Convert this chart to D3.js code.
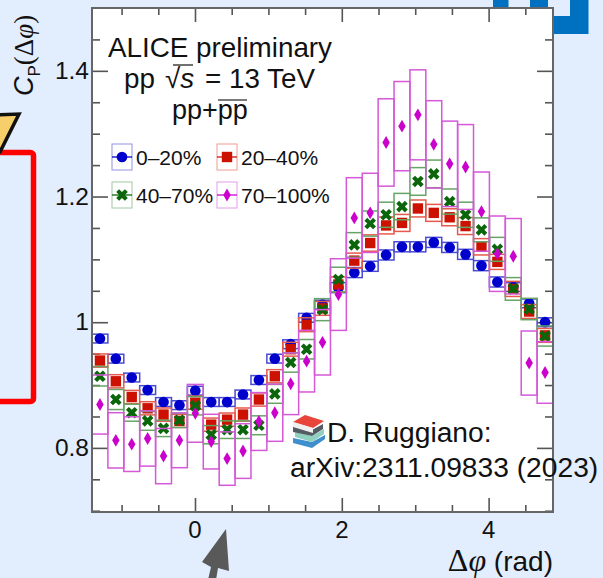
<!DOCTYPE html>
<html>
<head>
<meta charset="utf-8">
<script src="https://cdn.jsdelivr.net/npm/d3@7"></script>
<style>
    html, body { margin: 0; padding: 0; background: #e2edfd; }
    svg { display: block; }
    text { font-family: "Liberation Sans", Arial, sans-serif; fill: #111; }
    .serif { font-family: "Liberation Serif", "DejaVu Serif", serif; }
    .axis path { display: none; }
    .axis line { stroke: #555; stroke-width: 1.6; }
</style>
</head>
<body>
<div id="chart"></div>
<script>
// values, one per dphi bin (29 bins)
const labels = ["0–20%", "20–40%", "40–70%", "70–100%"];

const c0_20 = [0.974, 0.942, 0.912, 0.892, 0.873, 0.868, 0.891, 0.873, 0.873, 0.885, 0.908, 0.942, 0.965, 1.007, 1.028,
    1.055, 1.079, 1.089, 1.107, 1.120, 1.120, 1.127, 1.119, 1.108, 1.090, 1.064, 1.056, 1.030, 1.000];
const c20_40 = [0.939, 0.906, 0.881, 0.863, 0.853, 0.843, 0.872, 0.837, 0.845, 0.853, 0.877, 0.914, 0.957, 0.996, 1.022,
    1.060, 1.098, 1.126, 1.154, 1.158, 1.181, 1.174, 1.167, 1.153, 1.120, 1.096, 1.053, 1.017, 0.979];
const c40_70 = [0.914, 0.877, 0.856, 0.843, 0.831, 0.844, 0.867, 0.821, 0.829, 0.829, 0.836, 0.886, 0.936, 0.957, 1.020,
    1.068, 1.123, 1.157, 1.171, 1.184, 1.224, 1.236, 1.192, 1.171, 1.147, 1.116, 1.053, 1.021, 0.978];
const c70_100 = [0.869, 0.812, 0.806, 0.815, 0.787, 0.812, 0.855, 0.810, 0.783, 0.795, 0.842, 0.856, 0.902, 0.938, 0.968,
    1.044, 1.166, 1.174, 1.286, 1.312, 1.330, 1.283, 1.252, 1.247, 1.176, 1.109, 1.105, 0.935, 0.920];

// half heights of the systematic boxes
const sys0_20 = [0.007, 0.007, 0.007, 0.007, 0.007, 0.007, 0.007, 0.007, 0.007, 0.007, 0.007, 0.007, 0.007, 0.007, 0.007,
    0.008, 0.008, 0.008, 0.008, 0.008, 0.008, 0.008, 0.008, 0.008, 0.008, 0.008, 0.007, 0.007, 0.007];
const sys20_40 = [0.0105, 0.0105, 0.0105, 0.0105, 0.0105, 0.0105, 0.0105, 0.0105, 0.0105, 0.0105, 0.0105, 0.0105, 0.011, 0.011, 0.011,
    0.012, 0.012, 0.013, 0.0135, 0.0135, 0.0135, 0.0135, 0.0135, 0.0135, 0.013, 0.012, 0.012, 0.011, 0.011];
const sys40_70 = [0.0155, 0.016, 0.0135, 0.015, 0.013, 0.0115, 0.0145, 0.0145, 0.014, 0.014, 0.015, 0.015, 0.0155, 0.0155, 0.0175,
    0.0195, 0.0195, 0.02, 0.02, 0.021, 0.022, 0.022, 0.02, 0.02, 0.019, 0.019, 0.018, 0.017, 0.016];
const sys70_100 = [0.047, 0.044, 0.0435, 0.044, 0.044, 0.0435, 0.046, 0.0435, 0.0425, 0.0435, 0.046, 0.0455, 0.049, 0.049, 0.052,
    0.057, 0.064, 0.063, 0.0695, 0.071, 0.0716, 0.0695, 0.068, 0.0675, 0.063, 0.060, 0.060, 0.051, 0.049];

const xTicks = [0, 2, 4];
const xMinorTicks = [-1, -0.5, 0.5, 1, 1.5, 2.5, 3, 3.5, 4.5];
const yTicks = [0.8, 1, 1.2, 1.4];
const yMinorTicks = [0.7, 0.75, 0.85, 0.9, 0.95, 1.05, 1.1, 1.15, 1.25, 1.3, 1.35, 1.45];

const width = 603, height = 578;
const margin = {top: 8, right: 50, bottom: 66, left: 92};

const svg = d3.select("#chart").append("svg")
    .attr("width", width)
    .attr("height", height);

// slide decoration around the plot
svg.append("rect").attr("x", -20).attr("y", 152.5).attr("width", 53.5).attr("height", 249)
    .attr("rx", 3).attr("fill", "none").attr("stroke", "#ff0000").attr("stroke-width", 5.5);
svg.append("path").attr("d", "M-10,115 L19,114 L0,152 L-10,152 Z")
    .attr("fill", "#f6cf6a").attr("stroke", "#111").attr("stroke-width", 3.5);
[[493, 0, 15.5, 8], [530, 0, 18, 8], [570, 0, 18.5, 34], [553, 16, 18, 18]].forEach(r => {
    svg.append("rect").attr("x", r[0]).attr("y", r[1]).attr("width", r[2]).attr("height", r[3]).attr("fill", "#0070c0");
});

const plotW = width - margin.left - margin.right;
const plotH = height - margin.top - margin.bottom;
const chart = svg.append("g").attr("transform", `translate(${margin.left},${margin.top})`);

const x = d3.scaleLinear().domain([-1.403, 4.877]).range([0, plotW]);
const y = d3.scaleLinear().domain([0.698, 1.5]).range([plotH, 0]);
const binWidth = (x.domain()[1] - x.domain()[0]) / 29;
const binLeft = i => x.domain()[0] + i * binWidth;

chart.append("rect").attr("width", plotW).attr("height", plotH).attr("fill", "#fff");

function ticks(axis, scale, values, size, tx, ty) {
    chart.append("g").attr("class", "axis")
        .attr("transform", `translate(${tx},${ty})`)
        .call(axis(scale).tickValues(values).tickSize(size).tickFormat(""));
}
ticks(d3.axisBottom, x, xTicks, -14, 0, plotH);
ticks(d3.axisBottom, x, xMinorTicks, -7, 0, plotH);
ticks(d3.axisTop, x, xTicks, -14, 0, 0);
ticks(d3.axisTop, x, xMinorTicks, -7, 0, 0);
ticks(d3.axisLeft, y, yTicks, -16, 0, 0);
ticks(d3.axisLeft, y, yMinorTicks, -8, 0, 0);
ticks(d3.axisRight, y, yTicks, -16, plotW, 0);
ticks(d3.axisRight, y, yMinorTicks, -8, plotW, 0);

const series = [
    {values: c0_20, sys: sys0_20, color: "#0000cc", box: "#4a4ad2", symbol: d3.symbolCircle, size: 90, rotate: 0},
    {values: c20_40, sys: sys20_40, color: "#cc1100", box: "#e65a4e", symbol: d3.symbolSquare, size: 108, rotate: 0},
    {values: c40_70, sys: sys40_70, color: "#0b660b", box: "#66a466", symbol: d3.symbolCross, size: 84, rotate: 45},
    {values: c70_100, sys: sys70_100, color: "#cc00cc", box: "#d458d8", symbol: d3.symbolDiamond, size: 48, rotate: 0}
];

series.forEach(s => {
    const g = chart.append("g");
    g.selectAll("rect")
        .data(s.values)
        .join("rect")
        .attr("x", (d, i) => x(binLeft(i)))
        .attr("width", x(binWidth) - x(0))
        .attr("y", (d, i) => y(d + s.sys[i]))
        .attr("height", (d, i) => y(d - s.sys[i]) - y(d + s.sys[i]))
        .attr("fill", "none")
        .attr("stroke", s.box)
        .attr("stroke-width", 1.5);
    g.selectAll("path")
        .data(s.values)
        .join("path")
        .attr("d", d3.symbol(s.symbol, s.size))
        .attr("fill", s.color)
        .attr("transform", (d, i) => `translate(${x(binLeft(i) + binWidth / 2)},${y(d)}) rotate(${s.rotate})`);
});

chart.append("rect").attr("width", plotW).attr("height", plotH)
    .attr("fill", "none").attr("stroke", "#666").attr("stroke-width", 2);

// tick labels
chart.selectAll(".xlab").data(xTicks).join("text")
    .attr("x", d => x(d)).attr("y", plotH + 26)
    .attr("text-anchor", "middle").attr("font-size", 24)
    .text(d => d);
chart.selectAll(".ylab").data(yTicks).join("text")
    .attr("x", -3).attr("y", d => y(d) + 8)
    .attr("text-anchor", "end").attr("font-size", 24.5)
    .text(d => d === 1 ? "1" : d.toFixed(1));

// axis titles
const xTitle = svg.append("text").attr("x", 553).attr("y", 571).attr("text-anchor", "end").attr("font-size", 28);
xTitle.append("tspan").attr("class", "serif").attr("font-size", 32).text("Δ");
xTitle.append("tspan").attr("class", "serif").attr("font-size", 32).attr("font-style", "italic").text("φ");
xTitle.append("tspan").text(" (rad)");

const yTitle = svg.append("text").attr("transform", "translate(33,96) rotate(-90)").attr("font-size", 27);
yTitle.append("tspan").attr("font-style", "italic").text("C");
yTitle.append("tspan").attr("font-size", 17).attr("dy", 7).text("P");
yTitle.append("tspan").attr("class", "serif").attr("dy", -7).text("(Δ");
yTitle.append("tspan").attr("class", "serif").attr("font-style", "italic").text("φ");
yTitle.append("tspan").attr("class", "serif").text(")");

// header
svg.append("text").attr("x", 220).attr("y", 57).attr("text-anchor", "middle").attr("font-size", 27.8).text("ALICE preliminary");
const energy = svg.append("text").attr("x", 124).attr("y", 88).attr("font-size", 27.8);
energy.append("tspan").text("pp");
energy.append("tspan").attr("x", 165).text("√");
energy.append("tspan").attr("font-style", "italic").text("s");
svg.append("text").attr("x", 315).attr("y", 88).attr("text-anchor", "end").attr("font-size", 27.8).text("= 13 TeV");
svg.append("line").attr("x1", 173).attr("x2", 193).attr("y1", 65).attr("y2", 65).attr("stroke", "#111").attr("stroke-width", 1.2);
svg.append("text").attr("x", 172).attr("y", 119).attr("font-size", 27).text("pp+pp");
svg.append("line").attr("x1", 218).attr("x2", 247).attr("y1", 100).attr("y2", 100).attr("stroke", "#333").attr("stroke-width", 1.3);

// legend
const legendX = [122, 227], legendY = [157, 195];
series.forEach((s, i) => {
    const lx = legendX[i % 2], ly = legendY[Math.floor(i / 2)];
    const g = svg.append("g").attr("transform", `translate(${lx},${ly})`);
    g.append("rect").attr("x", -10).attr("y", -13).attr("width", 20).attr("height", 26)
        .attr("fill", "#fff").attr("fill-opacity", 0.4).attr("stroke", s.box).attr("stroke-opacity", 0.6).attr("stroke-width", 1);
    g.append("line").attr("x1", -10).attr("x2", 10).attr("stroke", s.color).attr("stroke-width", 1.3);
    g.append("path").attr("d", d3.symbol(s.symbol, s.size)).attr("fill", s.color).attr("transform", `rotate(${s.rotate})`);
    svg.append("text").attr("x", lx + 14).attr("y", ly + 8).attr("font-size", 21).text(labels[i]);
});

// citation with a small pile of books
const books = svg.append("g").attr("transform", "translate(292,415)");
[["M1,23 L20,27 L33,20 L33,24 L20,33 L1,28 Z", "#3f8fcf"],
 ["M3,17 L20,21 L32,14 L32,19 L20,27 L3,22 Z", "#8fd0c0"],
 ["M1,11 L20,15 L31,9 L31,14 L20,21 L1,17 Z", "#555b63"],
 ["M1,7 L13,0 L32,6 L21,13 Z", "#e8443a"],
 ["M1,7 L21,13 L21,18 L1,12 Z", "#f0f0f0"]].forEach(b => {
    books.append("path").attr("d", b[0]).attr("fill", b[1]);
});
svg.append("text").attr("x", 327).attr("y", 442).attr("font-size", 28.2).text("D. Ruggiano:");
svg.append("text").attr("x", 290).attr("y", 477).attr("font-size", 28.2).text("arXiv:2311.09833 (2023)");

// grey arrow under the plot
svg.append("path").attr("d", "M226,529 L229,571 L218,568 L216,580 L208,580 L211,567 L202,562 Z").attr("fill", "#595959");
</script>
</body>
</html>
